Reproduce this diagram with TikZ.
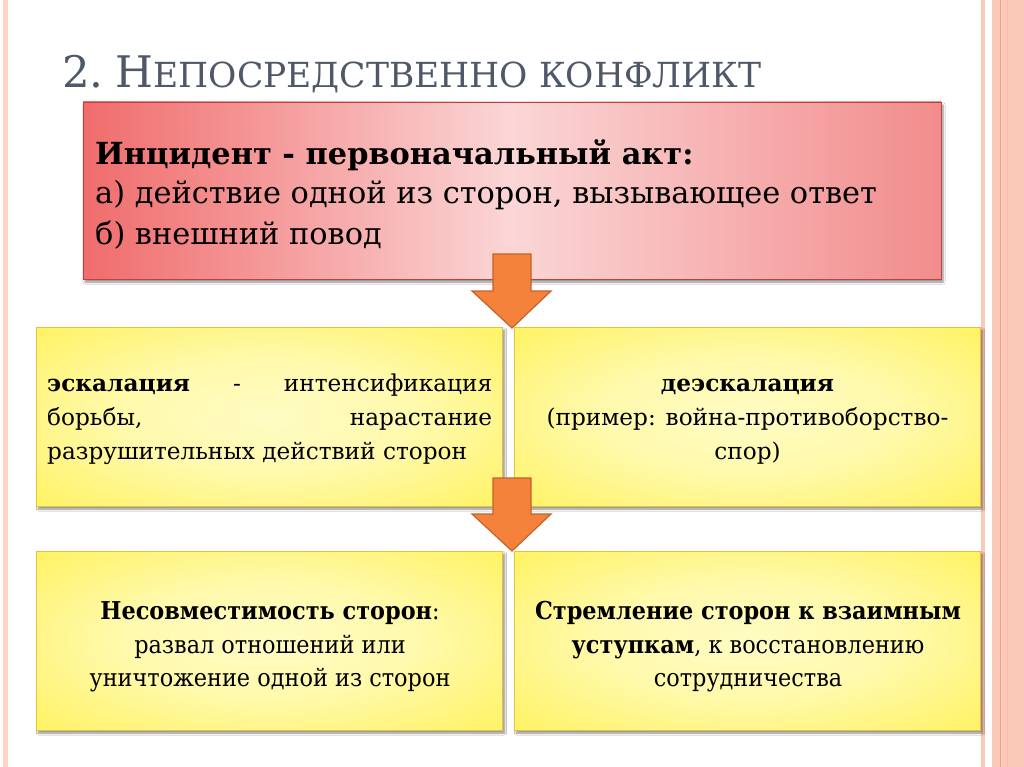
\documentclass[tikz,border=0pt]{standalone}
\usepackage{fontspec}
\setmainfont{DejaVu Serif}
\newfontfamily\condf[FakeStretch=0.91]{DejaVu Serif}
\newfontfamily\titlef{DejaVu Serif}
\usetikzlibrary{shadows.blur}
\definecolor{titlec}{HTML}{4E5868}
\definecolor{redl}{HTML}{F06C6C}
\definecolor{redm}{HTML}{FBD6D6}
\definecolor{redr}{HTML}{F28C8C}
\definecolor{redb}{HTML}{B84440}
\definecolor{yelo}{HTML}{FFF04A}
\definecolor{yeli}{HTML}{FFFCC4}
\definecolor{yelb}{HTML}{E6C23C}
\definecolor{arrf}{HTML}{F5823A}
\definecolor{arrb}{HTML}{C4622A}
\definecolor{band}{HTML}{FBC9B8}
\definecolor{bandl}{HTML}{F0A488}
\pgfdeclareradialshading{yelsh}{\pgfpoint{0bp}{0bp}}{color(0bp)=(yeli); color(16bp)=(yeli!80!yelo); color(42bp)=(yelo); color(50bp)=(yelo)}
\tikzset{
  shad/.style={blur shadow={shadow xshift=2pt,shadow yshift=-3pt,shadow blur steps=6,shadow opacity=45}},
  redbox/.style={draw=redb,line width=0.8pt,left color=redl,right color=redr,middle color=redm,shad,
    minimum width=858pt,minimum height=177pt,inner sep=0pt,outer sep=0pt},
  yelbox/.style={draw=yelb,line width=0.6pt,shading=yelsh,shad,
    minimum width=466pt,minimum height=179pt,inner sep=0pt,outer sep=0pt},
  blockarrow/.style={fill=arrf,draw=arrb,line width=1.2pt,line join=miter},
  txt/.style={anchor=base west,inner sep=0pt,font=\fontsize{30.4}{35}\selectfont},
  ytxt/.style={inner sep=0pt,font=\fontsize{23.2}{28}\selectfont},
  ctxt/.style={anchor=base,inner sep=0pt,font=\condf\fontsize{24.6}{30}\selectfont},
}
\begin{document}
\begin{tikzpicture}[x=1pt,y=-1pt]
\useasboundingbox (0,0) rectangle (1024,767);
\fill[white] (0,0) rectangle (1024,767);
% page decorations
\fill[band!80] (3,0) rectangle (8,767);
\fill[band] (981,0) rectangle (985,767);
\fill[band] (992,0) rectangle (1024,767);
\fill[bandl] (999.5,0) rectangle (1001,767);
\fill[band!70!bandl] (1007,0) rectangle (1008,767);
% title
\node[anchor=base west,inner sep=0pt,text=titlec] (title) at (62,88)
  {\titlef\fontsize{43.5}{48}\selectfont 2.\kern-2pt\ Н{\fontsize{34.5}{40}\selectfont ЕПОСРЕДСТВЕННО КОНФЛИКТ}};
% red box
\node[redbox] (inc) at (512,190.5) {};
\node[txt] (t1) at (95,165) {\textbf{Инцидент - первоначальный акт:}};
\node[txt] (t2) at (95,204) {а) действие одной из сторон, вызывающее ответ};
\node[txt] (t3) at (95,244) {б) внешний повод};
% yellow boxes
\node[yelbox] (esc) at (269.5,416.5) {};
\node[yelbox] (desc) at (747.5,416.5) {};
\node[yelbox] (incomp) at (269.5,640.5) {};
\node[yelbox] (comp) at (747.5,640.5) {};
% arrows
\draw[blockarrow] (493,254) -- (531,254) -- (531,291) -- (551,291) -- (512,328) -- (472,291) -- (493,291) -- cycle;
\draw[blockarrow] (493,478) -- (531,478) -- (531,514) -- (551,514) -- (512,551) -- (472,514) -- (493,514) -- cycle;
% escalation text
\node[ytxt,anchor=base west] (e1) at (47,391) {\makebox[445pt][s]{\textbf{эскалация} \hfill - \hfill интенсификация}};
\node[ytxt,anchor=base west] (e2) at (47,425) {\makebox[445pt][s]{борьбы,\hfill нарастание}};
\node[ytxt,anchor=base west] (e3) at (47,459) {разрушительных действий сторон};
% de-escalation text
\node[ytxt,anchor=base] (d1) at (747.5,391) {\textbf{деэскалация}};
\node[ytxt,anchor=base] (d2) at (747.5,425) {(пример: война-противоборство-};
\node[ytxt,anchor=base] (d3) at (747.5,459) {спор)};
% bottom texts
\node[ctxt] (n1) at (270,619) {\textbf{Несовместимость сторон}:};
\node[ctxt] (n2) at (270,653) {развал отношений или};
\node[ctxt] (n3) at (270,686) {уничтожение одной из сторон};
\node[ctxt] (s1) at (748,619) {\textbf{Стремление сторон к взаимным}};
\node[ctxt] (s2) at (748,653) {\textbf{уступкам}, к восстановлению};
\node[ctxt] (s3) at (748,686) {сотрудничества};
\end{tikzpicture}
\end{document}
